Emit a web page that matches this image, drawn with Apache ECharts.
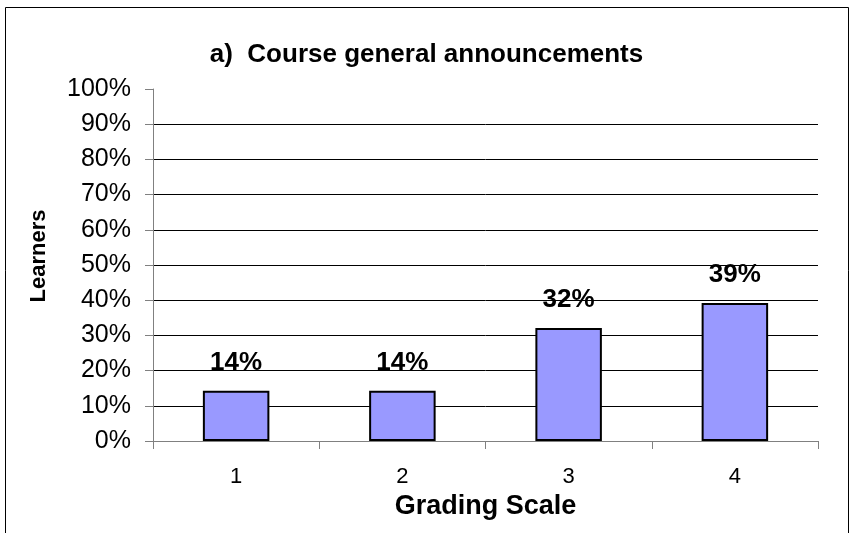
<!DOCTYPE html>
<html>
<head>
<meta charset="utf-8">
<script src="https://cdn.jsdelivr.net/npm/echarts@6/dist/echarts.min.js"></script>
<style>
  html, body { margin: 0; padding: 0; background: #fff; }
  #chart { width: 853px; height: 533px; }
</style>
</head>
<body>
<div id="chart"></div>
<script>
// data
var categories = ['1', '2', '3', '4'];
var learners = [14.3, 14.3, 32.1, 39.2];
var yTicks = [0, 10, 20, 30, 40, 50, 60, 70, 80, 90, 100];

var chart = echarts.init(document.getElementById('chart'));
var font = 'Arial, "Liberation Sans", sans-serif';

var option = {
  backgroundColor: '#fff',
  animation: false,
  title: {
    text: 'a)  Course general announcements',
    left: 'center',
    top: 42,
    padding: 0,
    textStyle: { fontFamily: font, fontSize: 26, fontWeight: 'bold', color: '#000' }
  },
  graphic: [{
    type: 'rect',
    shape: { x: 5.5, y: 7.5, width: 843, height: 600 },
    style: { fill: 'none', stroke: '#000', lineWidth: 1 },
    silent: true
  }],
  grid: { left: 153, right: 35, top: 89, bottom: 92 },
  xAxis: {
    type: 'category',
    data: categories,
    name: 'Grading Scale',
    nameLocation: 'middle',
    nameGap: 49,
    nameTextStyle: { fontFamily: font, fontSize: 27, fontWeight: 'bold', color: '#000' },
    axisLine: { lineStyle: { color: '#808080', width: 1 } },
    axisTick: { show: true, length: 8, lineStyle: { color: '#808080' } },
    axisLabel: { fontFamily: font, fontSize: 22, color: '#000', margin: 25 },
    splitLine: { show: false }
  },
  yAxis: {
    type: 'value',
    min: yTicks[0],
    max: yTicks[yTicks.length - 1],
    interval: 10,
    name: 'Learners',
    nameLocation: 'middle',
    nameGap: 103,
    nameTextStyle: { fontFamily: font, fontSize: 22, fontWeight: 'bold', color: '#000', padding: [0, 0, 0, 18] },
    axisLine: { show: true, lineStyle: { color: '#808080', width: 1 } },
    axisTick: { show: true, length: 8, lineStyle: { color: '#808080' } },
    axisLabel: { fontFamily: font, fontSize: 25, color: '#000', margin: 22, formatter: '{value}%' },
    splitLine: { show: true, showMinLine: false, showMaxLine: false, lineStyle: { color: '#000', width: 1 } }
  },
  series: [{
    type: 'bar',
    data: learners,
    barWidth: '40%',
    itemStyle: { color: '#9999FF', borderColor: '#000', borderWidth: 2 },
    label: {
      show: true,
      position: 'top',
      distance: 15,
      fontFamily: font,
      fontSize: 26,
      fontWeight: 'bold',
      color: '#000',
      formatter: function (p) { return Math.round(p.value) + '%'; }
    }
  }]
};

chart.setOption(option);
</script>
</body>
</html>
